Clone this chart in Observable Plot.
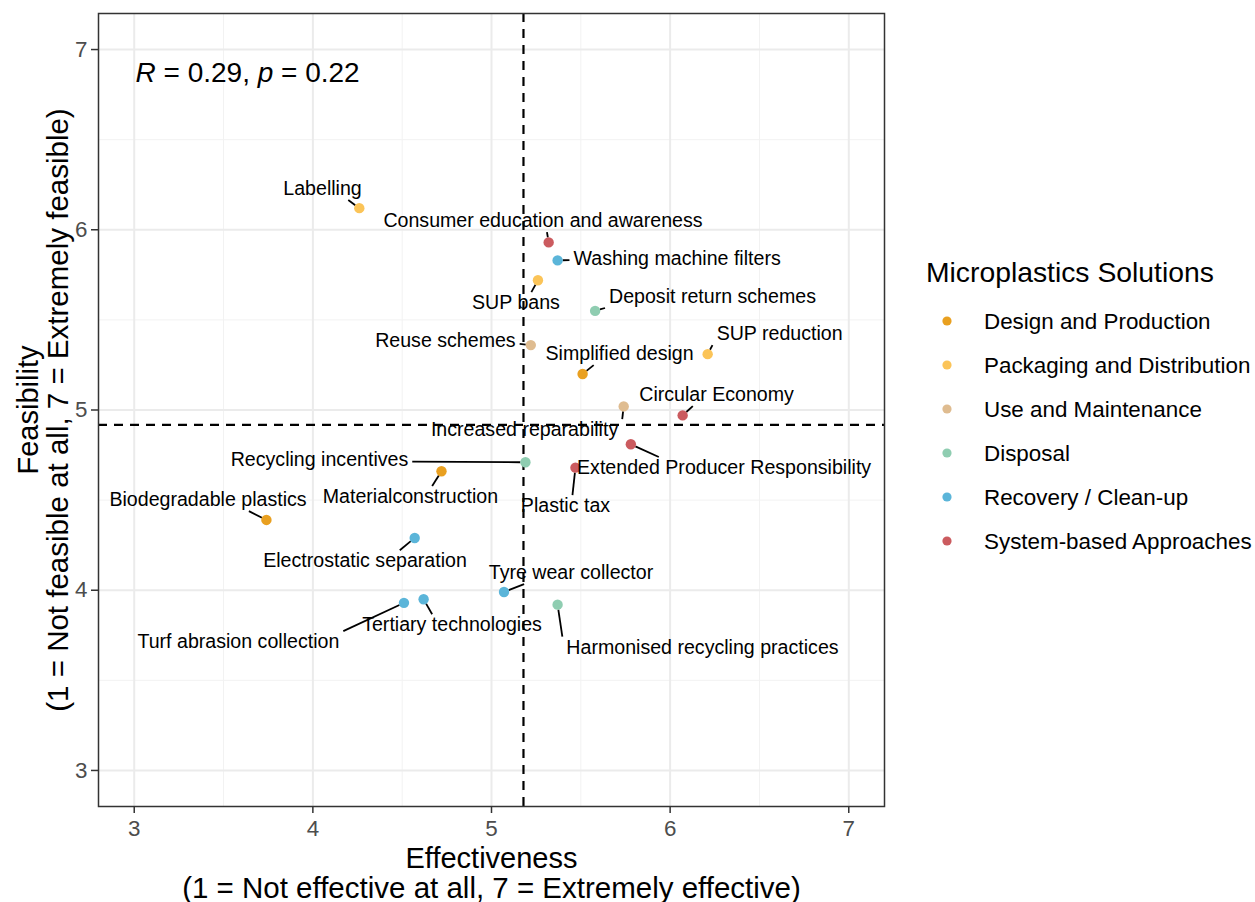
<!DOCTYPE html>
<html>
<head>
<meta charset="utf-8">
<script src="https://cdn.jsdelivr.net/npm/d3@7"></script>
<script src="https://cdn.jsdelivr.net/npm/@observablehq/plot@0.6"></script>
<style>
  body { margin: 0; background: #ffffff; font-family: "Liberation Sans", Arial, sans-serif; }
  #wrap { position: relative; width: 1255px; height: 902px; background: #fff; }
  #chart { position: absolute; left: 0; top: 0; }
  #legend { position: absolute; left: 895px; top: 0; }
</style>
</head>
<body>
<div id="wrap">
  <div id="chart"></div>
  <svg id="legend" width="360" height="902"></svg>
</div>
<script>
// ---------------- data ----------------
const solutions = [
  "Labelling", "Consumer education and awareness", "Washing machine filters", "SUP bans",
  "Deposit return schemes", "Reuse schemes", "SUP reduction", "Simplified design",
  "Increased reparability", "Circular Economy", "Extended Producer Responsibility",
  "Recycling incentives", "Materialconstruction", "Plastic tax", "Biodegradable plastics",
  "Electrostatic separation", "Tyre wear collector", "Turf abrasion collection",
  "Tertiary technologies", "Harmonised recycling practices"
];
const solutionCategory = [
  "Packaging and Distribution", "System-based Approaches", "Recovery / Clean-up", "Packaging and Distribution",
  "Disposal", "Use and Maintenance", "Packaging and Distribution", "Design and Production",
  "Use and Maintenance", "System-based Approaches", "System-based Approaches",
  "Disposal", "Design and Production", "System-based Approaches", "Design and Production",
  "Recovery / Clean-up", "Recovery / Clean-up", "Recovery / Clean-up",
  "Recovery / Clean-up", "Disposal"
];
const effectiveness = [
  4.26, 5.32, 5.37, 5.26,
  5.58, 5.22, 6.21, 5.51,
  5.74, 6.07, 5.78,
  5.19, 4.72, 5.47, 3.74,
  4.57, 5.07, 4.51,
  4.62, 5.37
];
const feasibility = [
  6.12, 5.93, 5.83, 5.72,
  5.55, 5.36, 5.31, 5.20,
  5.02, 4.97, 4.81,
  4.71, 4.66, 4.68, 4.39,
  4.29, 3.99, 3.93,
  3.95, 3.92
];
// repelled label placement (data units)
const labelEffectiveness = [
  4.054, 5.288, 6.039, 5.137,
  6.237, 4.742, 6.613, 5.717,
  5.185, 6.260, 6.302,
  4.037, 4.546, 5.414, 3.413,
  4.292, 5.445, 3.583,
  4.779, 6.181
];
const labelFeasibility = [
  6.226, 6.048, 5.837, 5.593,
  5.627, 5.382, 5.421, 5.310,
  4.888, 5.083, 4.678,
  4.722, 4.517, 4.467, 4.500,
  4.161, 4.095, 3.712,
  3.806, 3.681
];
const categories = [
  "Design and Production", "Packaging and Distribution", "Use and Maintenance",
  "Disposal", "Recovery / Clean-up", "System-based Approaches"
];
const categoryColors = ["#E9A020", "#FBC458", "#DFBC90", "#8FCDB1", "#5BB5D9", "#CB5B5F"];
const axisTicks = [3, 4, 5, 6, 7];
const minorTicks = [3.5, 4.5, 5.5, 6.5];
const corR = "0.29";
const corP = "0.22";
const legendTitle = "Microplastics Solutions";
const xTitle = ["Effectiveness", "(1 = Not effective at all, 7 = Extremely effective)"];
const yTitle = ["Feasibility", "(1 = Not feasible at all, 7 = Extremely feasible)"];

// ---------------- build ----------------
const rows = solutions.map((name, i) => ({
  name, category: solutionCategory[i],
  x: effectiveness[i], y: feasibility[i],
  lx: labelEffectiveness[i], ly: labelFeasibility[i]
}));
const meanX = d3.mean(effectiveness);
const meanY = d3.mean(feasibility);

const W = 895, H = 902, mL = 98, mR = 11, mT = 13, mB = 96;
const domain = [2.8, 7.2];
const xs = Plot.scale({x: {domain, range: [mL, W - mR]}});
const ys = Plot.scale({y: {domain, range: [H - mB, mT]}});

const FONT = "'Liberation Sans', Arial, sans-serif";
const LABEL_SIZE = 19.6;
const ctx = document.createElement("canvas").getContext("2d");
ctx.font = LABEL_SIZE + "px " + FONT;

// segments from points to label boxes (ggrepel-like)
const segs = [];
rows.forEach(d => {
  const px = xs.apply(d.x), py = ys.apply(d.y);
  const cx = xs.apply(d.lx), cy = ys.apply(d.ly);
  const hw = ctx.measureText(d.name).width / 2 + 4, hh = 11;
  const x0 = cx - hw, x1 = cx + hw, y0 = cy - hh, y1 = cy + hh;
  let ex, ey;
  if (px >= x0 && px <= x1) ex = px + 0.3 * (cx - px); else ex = px > x1 ? x1 : x0;
  if (py >= y0 && py <= y1) ey = py + 0.3 * (cy - py); else ey = py > y1 ? y1 : y0;
  if (px >= x0 && px <= x1 && py >= y0 && py <= y1) return;
  const len = Math.hypot(ex - px, ey - py);
  const pad = 5;
  if (len < pad + 3) return;
  const sx = px + (ex - px) * pad / len, sy = py + (ey - py) * pad / len;
  segs.push({x1: xs.invert(sx), y1: ys.invert(sy), x2: xs.invert(ex), y2: ys.invert(ey)});
});

const plot = Plot.plot({
  width: W, height: H,
  marginLeft: mL, marginRight: mR, marginTop: mT, marginBottom: mB,
  x: {domain, label: null},
  y: {domain, label: null},
  color: {domain: categories, range: categoryColors},
  style: {fontFamily: FONT, fontSize: "19px", background: "white", color: "black", overflow: "visible"},
  marks: [
    Plot.gridX(minorTicks, {stroke: "#F2F2F2", strokeOpacity: 1, strokeWidth: 1}),
    Plot.gridY(minorTicks, {stroke: "#F2F2F2", strokeOpacity: 1, strokeWidth: 1}),
    Plot.gridX(axisTicks, {stroke: "#EBEBEB", strokeOpacity: 1, strokeWidth: 2}),
    Plot.gridY(axisTicks, {stroke: "#EBEBEB", strokeOpacity: 1, strokeWidth: 2}),
    Plot.ruleX([meanX], {stroke: "black", strokeWidth: 2.2, strokeDasharray: "9,7"}),
    Plot.ruleY([meanY], {stroke: "black", strokeWidth: 2.2, strokeDasharray: "9,7"}),
    Plot.link(segs, {x1: "x1", y1: "y1", x2: "x2", y2: "y2", stroke: "black", strokeWidth: 1.8}),
    Plot.dot(rows, {x: "x", y: "y", fill: "category", r: 5.2, stroke: "none"}),
    Plot.text(rows, {x: "lx", y: "ly", text: "name", fontSize: LABEL_SIZE, fill: "black", textAnchor: "middle", lineAnchor: "middle"}),
    Plot.frame({stroke: "#333333", strokeWidth: 1.5}),
    Plot.axisX(axisTicks, {anchor: "bottom", tickSize: 7, tickPadding: 7, fontSize: 22.4, stroke: "#333333", fill: "#4D4D4D", strokeWidth: 1.5, label: null, tickFormat: d => String(d)}),
    Plot.axisY(axisTicks, {anchor: "left", tickSize: 7, tickPadding: 4, fontSize: 22.4, stroke: "#333333", fill: "#4D4D4D", strokeWidth: 1.5, label: null, tickFormat: d => String(d)}),
    Plot.text([`R = ${corR}, p = ${corP}`], {frameAnchor: "top-left", dx: 37, dy: 49, lineAnchor: "top", textAnchor: "start", fontSize: 28, fill: "black"}),
    Plot.text([xTitle[0]], {frameAnchor: "bottom", dy: 52, fontSize: 29, fill: "black", textAnchor: "middle", lineAnchor: "middle"}),
    Plot.text([xTitle[1]], {frameAnchor: "bottom", dy: 82, fontSize: 29.5, fill: "black", textAnchor: "middle", lineAnchor: "middle"}),
    Plot.text([yTitle[0]], {frameAnchor: "left", dx: -70, rotate: -90, fontSize: 29, fill: "black", textAnchor: "middle", lineAnchor: "middle"}),
    Plot.text([yTitle[1]], {frameAnchor: "left", dx: -40, rotate: -90, fontSize: 29.5, fill: "black", textAnchor: "middle", lineAnchor: "middle"})
  ]
});
document.getElementById("chart").appendChild(plot);

// italicise R and p in the correlation label
d3.select(plot).selectAll("text").each(function() {
  const t = d3.select(this);
  if (this.textContent === `R = ${corR}, p = ${corP}`) {
    t.text(null);
    t.append("tspan").attr("font-style", "italic").text("R");
    t.append("tspan").text(` = ${corR}, `);
    t.append("tspan").attr("font-style", "italic").text("p");
    t.append("tspan").text(` = ${corP}`);
  }
});

// ---------------- legend ----------------
const lg = d3.select("#legend").style("font-family", FONT);
lg.append("text").attr("x", 31).attr("y", 282).attr("font-size", 28.3).attr("fill", "black").text(legendTitle);
categories.forEach((c, i) => {
  const cy = 321 + 44 * i;
  lg.append("circle").attr("cx", 52).attr("cy", cy).attr("r", 4.6).attr("fill", categoryColors[i]);
  lg.append("text").attr("x", 89).attr("y", cy).attr("dy", "0.35em").attr("font-size", 22.4).attr("fill", "black").text(c);
});
</script>
</body>
</html>
